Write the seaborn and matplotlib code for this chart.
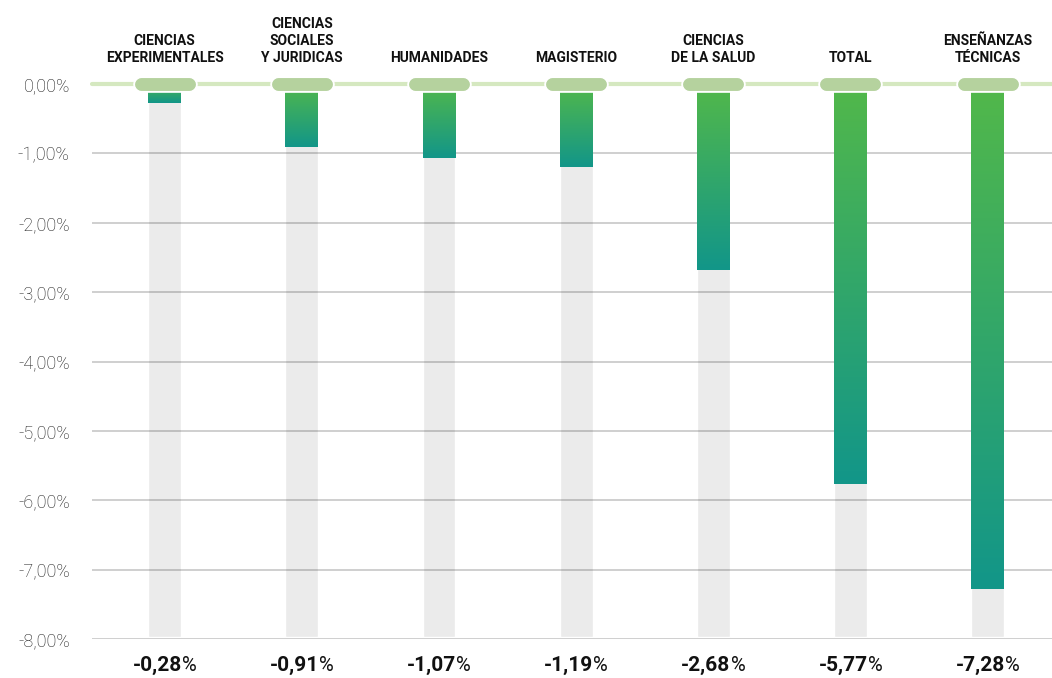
import numpy as np
import pandas as pd
import matplotlib
matplotlib.use("Agg")
import matplotlib.pyplot as plt
from matplotlib.colors import LinearSegmentedColormap
from matplotlib.transforms import offset_copy
import matplotlib.patheffects as pe
import seaborn as sns

# Data
categories = ["CIENCIAS\nEXPERIMENTALES", "CIENCIAS\nSOCIALES\nY JURIDICAS", "HUMANIDADES",
              "MAGISTERIO", "CIENCIAS\nDE LA SALUD", "TOTAL", "ENSEÑANZAS\nTÉCNICAS"]
values = [-0.28, -0.91, -1.07, -1.19, -2.68, -5.77, -7.28]
track = [-7.97] * len(categories)
yticks = [0, -1, -2, -3, -4, -5, -6, -7, -8]

df = pd.DataFrame({"cat": categories, "value": values, "track": track})

sns.set_style("white")
plt.rcParams["font.family"] = ["Roboto", "DejaVu Sans"]

fig = plt.figure(figsize=(10.52, 6.78), dpi=100)
ax = fig.add_axes([0.0875, 0.0575, 0.9125, 0.8185])

bar_w = 0.24
# grey background tracks
sns.barplot(data=df, x="cat", y="track", color="#ebebeb", width=bar_w,
            saturation=1, ax=ax, zorder=0.5)
n_track = len(ax.patches)
# coloured bars (recoloured with a gradient below)
sns.barplot(data=df, x="cat", y="value", color="#139a8b", width=bar_w,
            saturation=1, ax=ax, zorder=2)

cmap = LinearSegmentedColormap.from_list("grn", ["#52b84a", "#129689"])
grad = np.linspace(0, 1, 256).reshape(-1, 1)
for p in ax.patches[n_track:]:
    x0, w = p.get_x(), p.get_width()
    y0, h = p.get_y(), p.get_height()
    p.set_visible(False)
    ax.imshow(grad, cmap=cmap, aspect="auto", origin="upper",
              extent=[x0, x0 + w, y0 + h, y0], zorder=2)

ax.set_xlim(-0.53, 6.47)
ax.set_ylim(-8, 0)

# grid lines
for y in yticks[1:]:
    ax.axhline(y, color="black", alpha=0.22, lw=1.2, zorder=1)

# zero line with pills
ax.axhline(0, color="#d5e8c0", lw=3, zorder=3, clip_on=False)
for i in range(len(categories)):
    ax.plot([i - 0.175, i + 0.175], [0, 0], color="#b5d29e", lw=9,
            solid_capstyle="round", zorder=4, clip_on=False,
            path_effects=[pe.withStroke(linewidth=12, foreground="white"), pe.Normal()])

# category labels on top
for i, c in enumerate(categories):
    ax.text(i, 0.27, c, ha="center", va="bottom", fontsize=10, fontweight="bold",
            color="#111111", linespacing=1.3, clip_on=False)

# value labels at the bottom: bold number, lighter "%"
renderer = fig.canvas.get_renderer()
for i, v in enumerate(values):
    num = f"{v:.2f}".replace(".", ",")
    t1 = ax.text(i, -8.36, num, ha="left", va="baseline", fontsize=15,
                 fontweight="bold", color="#111111", clip_on=False)
    t2 = ax.text(i, -8.36, "%", ha="left", va="baseline", fontsize=14.5,
                 color="#111111", clip_on=False)
    w1 = t1.get_window_extent(renderer).width
    w2 = t2.get_window_extent(renderer).width
    tot = w1 + w2
    t1.set_transform(offset_copy(ax.transData, fig=fig, x=-tot / 2, y=-7, units="dots"))
    t2.set_transform(offset_copy(ax.transData, fig=fig, x=-tot / 2 + w1, y=-7, units="dots"))

ax.set_yticks(yticks)
ax.set_yticklabels([f"{t:.2f}".replace(".", ",") + "%" if t != 0 else "0,00%" for t in yticks],
                   fontsize=13, color="#1a1a1a", fontweight="light")
ax.tick_params(axis="y", length=0, pad=16)
ax.set_xticks([])
ax.set_xlabel("")
ax.set_ylabel("")
sns.despine(ax=ax, left=True, bottom=True)

fig.savefig("out.png", dpi=100)
